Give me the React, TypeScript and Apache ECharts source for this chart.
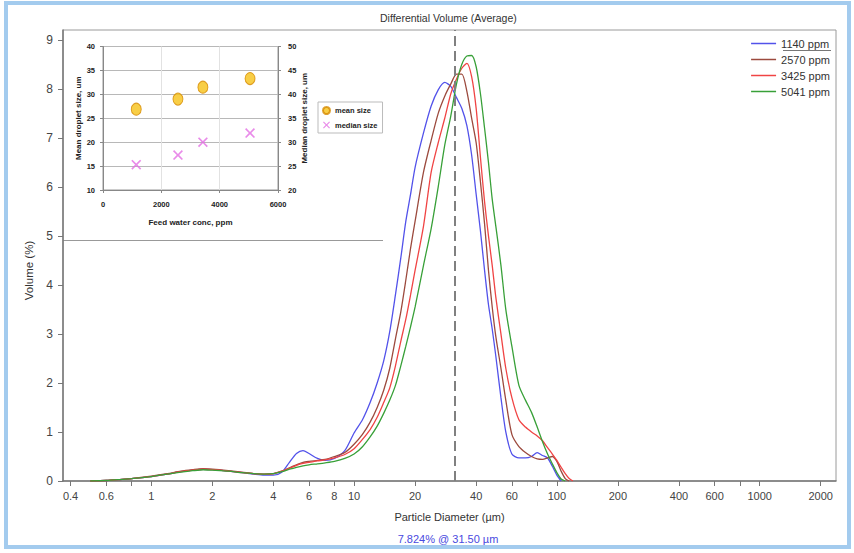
import React, { useEffect, useRef } from "react";
import * as echarts from "echarts";

// ---- main chart data: particle diameter (µm) vs differential volume (%) ----
const diameters = [
  0.5, 0.6, 0.7, 0.8, 1, 1.2, 1.4, 1.6, 1.8, 2, 2.4, 2.8, 3.2, 3.6, 4, 4.4, 4.8, 5.2, 5.6, 6,
  6.6, 7.2, 8, 9, 10, 11, 12, 13, 14, 15, 16, 17, 18, 19, 20, 22, 24, 26, 28, 30,
  32, 34, 36, 38, 40, 42, 44, 46, 48, 50, 53, 56, 60, 65, 70, 75, 80, 85, 90, 95,
  100, 105, 110, 115, 120,
];

const vol1140 = [
  0, 0.01, 0.03, 0.05, 0.09, 0.14, 0.19, 0.22, 0.24, 0.23, 0.2, 0.17, 0.14, 0.12, 0.12, 0.18, 0.38, 0.56, 0.62, 0.56,
  0.46, 0.42, 0.46, 0.62, 0.98, 1.25, 1.6, 2.0, 2.45, 3.05, 3.8, 4.55, 5.3, 5.85, 6.4, 7.1, 7.65, 7.98, 8.13, 8.05,
  7.82, 7.6, 7.25, 6.65, 5.85, 5.1, 4.3, 3.6, 3.1, 2.55, 1.7, 1.0, 0.55, 0.47, 0.47, 0.5, 0.58, 0.52, 0.47, 0.3,
  0.12, 0, null, null, null,
];

const vol2570 = [
  0, 0.01, 0.03, 0.05, 0.1, 0.15, 0.2, 0.23, 0.25, 0.24, 0.21, 0.18, 0.15, 0.14, 0.15, 0.2, 0.27, 0.33, 0.38, 0.4,
  0.42, 0.44, 0.5, 0.58, 0.75, 0.95, 1.2, 1.5, 1.85, 2.3, 2.9, 3.45, 4.1, 4.75, 5.3, 6.3, 6.95, 7.5, 7.85, 8.1,
  8.3, 8.3, 7.95, 7.4, 6.9, 6.1, 5.25, 4.3, 3.55, 2.95, 2.3, 1.65, 0.95, 0.7, 0.58, 0.5, 0.45, 0.44, 0.47, 0.5,
  0.4, 0.2, 0.05, 0, null,
];

const vol3425 = [
  0, 0.01, 0.03, 0.05, 0.09, 0.14, 0.19, 0.22, 0.24, 0.23, 0.2, 0.17, 0.15, 0.14, 0.15, 0.2, 0.26, 0.32, 0.36, 0.38,
  0.41, 0.43, 0.47, 0.54, 0.66, 0.85, 1.05, 1.3, 1.6, 1.9, 2.35, 2.85, 3.3, 3.8, 4.3, 5.2, 6.3, 6.9, 7.4, 7.9,
  8.2, 8.42, 8.52, 8.25, 7.6, 6.6, 5.7, 5.0, 4.4, 3.75, 3.0, 2.3, 1.7, 1.25, 1.1, 1.0, 0.92, 0.82, 0.68, 0.55,
  0.42, 0.28, 0.15, 0.05, 0,
];

const vol5041 = [
  0, 0.01, 0.03, 0.05, 0.09, 0.14, 0.18, 0.21, 0.23, 0.22, 0.2, 0.17, 0.15, 0.14, 0.15, 0.19, 0.24, 0.28, 0.31, 0.33,
  0.35, 0.37, 0.4, 0.46, 0.55, 0.7, 0.9, 1.12, 1.38, 1.65, 1.95, 2.35, 2.75, 3.15, 3.55, 4.4, 5.15, 6.0, 6.85, 7.45,
  8.1, 8.5, 8.67, 8.68, 8.45, 7.9, 7.2, 6.5, 5.75, 5.2, 4.4, 3.5, 2.75, 1.95, 1.65, 1.4, 1.1, 0.8, 0.55, 0.35,
  0.17, 0.04, 0, null, null,
];

const seriesNames = ["1140 ppm", "2570 ppm", "3425 ppm", "5041 ppm"];
const seriesColors = ["#5252ea", "#9c4a3e", "#f04444", "#38a038"];

const xLabelValues = [0.4, 0.6, 1, 2, 4, 6, 8, 10, 20, 40, 60, 100, 200, 400, 600, 1000, 2000];
const xTickValues = [0.4, 0.6, 0.8, 1, 2, 4, 6, 8, 10, 20, 40, 60, 80, 100, 200, 400, 600, 800, 1000, 2000];
const yTickValues = [0, 1, 2, 3, 4, 5, 6, 7, 8, 9];
const markerDiameter = 31.5;
const markerText = "7.824% @ 31.50 µm";

// ---- inset data ----
const feedConc = [1140, 2570, 3425, 5041];
const meanSize = [26.9, 29.0, 31.5, 33.3];
const medianSize = [25.3, 27.3, 30.0, 31.9];

const SANS = "'Liberation Sans', Arial, sans-serif";
const X_PATH =
  "path://M0,1.2 L1.2,0 L5,3.8 L8.8,0 L10,1.2 L6.2,5 L10,8.8 L8.8,10 L5,6.2 L1.2,10 L0,8.8 L3.8,5 Z";

export default function App() {
  const ref = useRef<HTMLDivElement>(null);

  useEffect(() => {
    if (!ref.current) return;
    const chart = echarts.init(ref.current, null, { renderer: "svg" });
    const volumes = [vol1140, vol2570, vol3425, vol5041];

    const lineSeries = volumes.map((vals, si) => ({
      name: seriesNames[si],
      type: "line",
      xAxisIndex: 0,
      yAxisIndex: 0,
      symbol: "none",
      smooth: 0.25,
      connectNulls: false,
      lineStyle: { color: seriesColors[si], width: 1.3 },
      itemStyle: { color: seriesColors[si] },
      data: diameters.map((d, i) => [d, vals[i]]),
      z: 3,
      markLine:
        si === 0
          ? {
              silent: true,
              symbol: ["none", "none"],
              label: { show: false },
              lineStyle: { color: "#808080", width: 2, type: [10, 5] },
              data: [{ xAxis: markerDiameter }],
            }
          : undefined,
    }));

    const option: any = {
      animation: false,
      backgroundColor: "#ffffff",
      textStyle: { fontFamily: SANS },
      title: {
        text: "Differential Volume (Average)",
        left: 380,
        top: 12,
        padding: 0,
        textStyle: { fontFamily: SANS, fontSize: 10.5, fontWeight: "normal", color: "#333" },
      },
      legend: [
        {
          data: seriesNames,
          orient: "vertical",
          right: 24,
          top: 37,
          icon: "rect",
          itemWidth: 25,
          itemHeight: 1.5,
          itemGap: 3,
          padding: 0,
          textStyle: { fontFamily: SANS, fontSize: 11, color: "#333", lineHeight: 13 },
        },
        {
          data: ["mean size", "median size"],
          orient: "vertical",
          left: 318,
          top: 102,
          itemWidth: 7,
          itemHeight: 7,
          itemGap: 6,
          padding: [4, 5, 4, 4],
          borderColor: "#bbb",
          borderWidth: 1,
          backgroundColor: "#fff",
          textStyle: { fontFamily: SANS, fontSize: 7.5, fontWeight: "bold", color: "#222" },
        },
      ],
      grid: [
        {
          left: 63,
          top: 30,
          right: 18,
          bottom: 72,
          show: true,
          borderColor: "#9a9a9a",
          borderWidth: 1,
        },
        {
          left: 103,
          top: 46.5,
          width: 175,
          height: 143.5,
          show: true,
          borderColor: "#999",
          borderWidth: 1,
          z: 5,
        },
      ],
      xAxis: [
        {
          type: "log",
          logBase: 10,
          gridIndex: 0,
          min: 0.367,
          max: 2380,
          name: "Particle Diameter (µm)",
          nameLocation: "middle",
          nameGap: 30,
          nameTextStyle: { fontFamily: SANS, fontSize: 11, color: "#333" },
          axisLine: { show: true, lineStyle: { color: "#777", width: 1.5 } },
          axisTick: { show: true, inside: false, length: 5, customValues: xTickValues, lineStyle: { color: "#777" } },
          axisLabel: {
            customValues: xLabelValues,
            margin: 9,
            fontFamily: SANS,
            fontSize: 11,
            color: "#444",
            formatter: (v: number) => String(v),
          },
          splitLine: { show: false },
          minorTick: { show: false },
        },
        {
          type: "value",
          gridIndex: 1,
          min: 0,
          max: 6000,
          interval: 2000,
          name: "Feed water conc, ppm",
          nameLocation: "middle",
          nameGap: 28,
          nameTextStyle: { fontFamily: SANS, fontSize: 8, fontWeight: "bold", color: "#222" },
          axisLine: { show: true, lineStyle: { color: "#888" } },
          axisTick: { show: true, length: 3, lineStyle: { color: "#888" } },
          axisLabel: {
            margin: 10,
            fontFamily: SANS,
            fontSize: 7.5,
            fontWeight: "bold",
            color: "#222",
            formatter: (v: number) => String(v),
          },
          splitLine: { show: true, lineStyle: { color: "#e2e2e2" } },
          z: 5,
        },
      ],
      yAxis: [
        {
          type: "value",
          gridIndex: 0,
          min: 0,
          max: 9.2,
          name: "Volume (%)",
          nameLocation: "middle",
          nameGap: 24,
          nameTextStyle: { fontFamily: SANS, fontSize: 11.5, color: "#333", padding: [0, 30, 0, 0] },
          axisLine: { show: true, lineStyle: { color: "#777", width: 1.5 } },
          axisTick: { show: true, inside: false, length: 5, customValues: yTickValues, lineStyle: { color: "#777" } },
          axisLabel: { customValues: yTickValues, margin: 10, fontFamily: SANS, fontSize: 12, color: "#444" },
          splitLine: { show: false },
        },
        {
          type: "value",
          gridIndex: 1,
          min: 10,
          max: 40,
          interval: 5,
          name: "Mean droplet size, um",
          nameLocation: "middle",
          nameGap: 18,
          nameTextStyle: { fontFamily: SANS, fontSize: 8, fontWeight: "bold", color: "#222" },
          axisLine: { show: true, lineStyle: { color: "#888" } },
          axisTick: { show: true, length: 3, lineStyle: { color: "#888" } },
          axisLabel: { margin: 8, fontFamily: SANS, fontSize: 7.5, fontWeight: "bold", color: "#222" },
          splitLine: { show: true, lineStyle: { color: "#b8b8b8" } },
          z: 5,
        },
        {
          type: "value",
          gridIndex: 1,
          position: "right",
          min: 20,
          max: 50,
          interval: 5,
          name: "Median droplet size, um",
          nameLocation: "middle",
          nameGap: 20,
          nameTextStyle: { fontFamily: SANS, fontSize: 8, fontWeight: "bold", color: "#222" },
          axisLine: { show: true, lineStyle: { color: "#888" } },
          axisTick: { show: true, length: 3, lineStyle: { color: "#888" } },
          axisLabel: { margin: 10, fontFamily: SANS, fontSize: 7.5, fontWeight: "bold", color: "#222" },
          splitLine: { show: false },
          z: 5,
        },
      ],
      series: [
        ...lineSeries,
        {
          name: "mean size",
          type: "scatter",
          xAxisIndex: 1,
          yAxisIndex: 1,
          symbol: "circle",
          symbolSize: [10, 12],
          itemStyle: { color: "#f6c218", borderColor: "#d68a00", borderWidth: 1 },
          data: feedConc.map((c, i) => [c, meanSize[i]]),
          z: 6,
        },
        {
          name: "median size",
          type: "scatter",
          xAxisIndex: 1,
          yAxisIndex: 2,
          symbol: X_PATH,
          symbolSize: 10,
          itemStyle: { color: "#e46ee4" },
          data: feedConc.map((c, i) => [c, medianSize[i]]),
          z: 6,
        },
      ],
      graphic: [
        {
          type: "rect",
          shape: { x: 6, y: 3, width: 843, height: 544 },
          style: { fill: "none", stroke: "#a3cbee", lineWidth: 4 },
          silent: true,
          z: 10,
        },
        {
          type: "line",
          shape: { x1: 63, y1: 240.5, x2: 383, y2: 240.5 },
          style: { stroke: "#999", lineWidth: 1 },
          silent: true,
        },
        {
          type: "line",
          shape: { x1: 783, y1: 50.5, x2: 831, y2: 50.5 },
          style: { stroke: "#777", lineWidth: 1 },
          silent: true,
        },
        {
          type: "text",
          x: 448,
          y: 539,
          style: {
            text: markerText,
            fill: "#4a4ae0",
            fontSize: 11,
            fontFamily: SANS,
            align: "center",
            verticalAlign: "middle",
            textAlign: "center",
            textVerticalAlign: "middle",
          },
          silent: true,
        },
      ],
    };

    chart.setOption(option);
    return () => chart.dispose();
  }, []);

  return (
    <div
      ref={ref}
      style={{ position: "fixed", left: 0, top: 0, width: 854, height: 553, background: "#fff" }}
    />
  );
}
